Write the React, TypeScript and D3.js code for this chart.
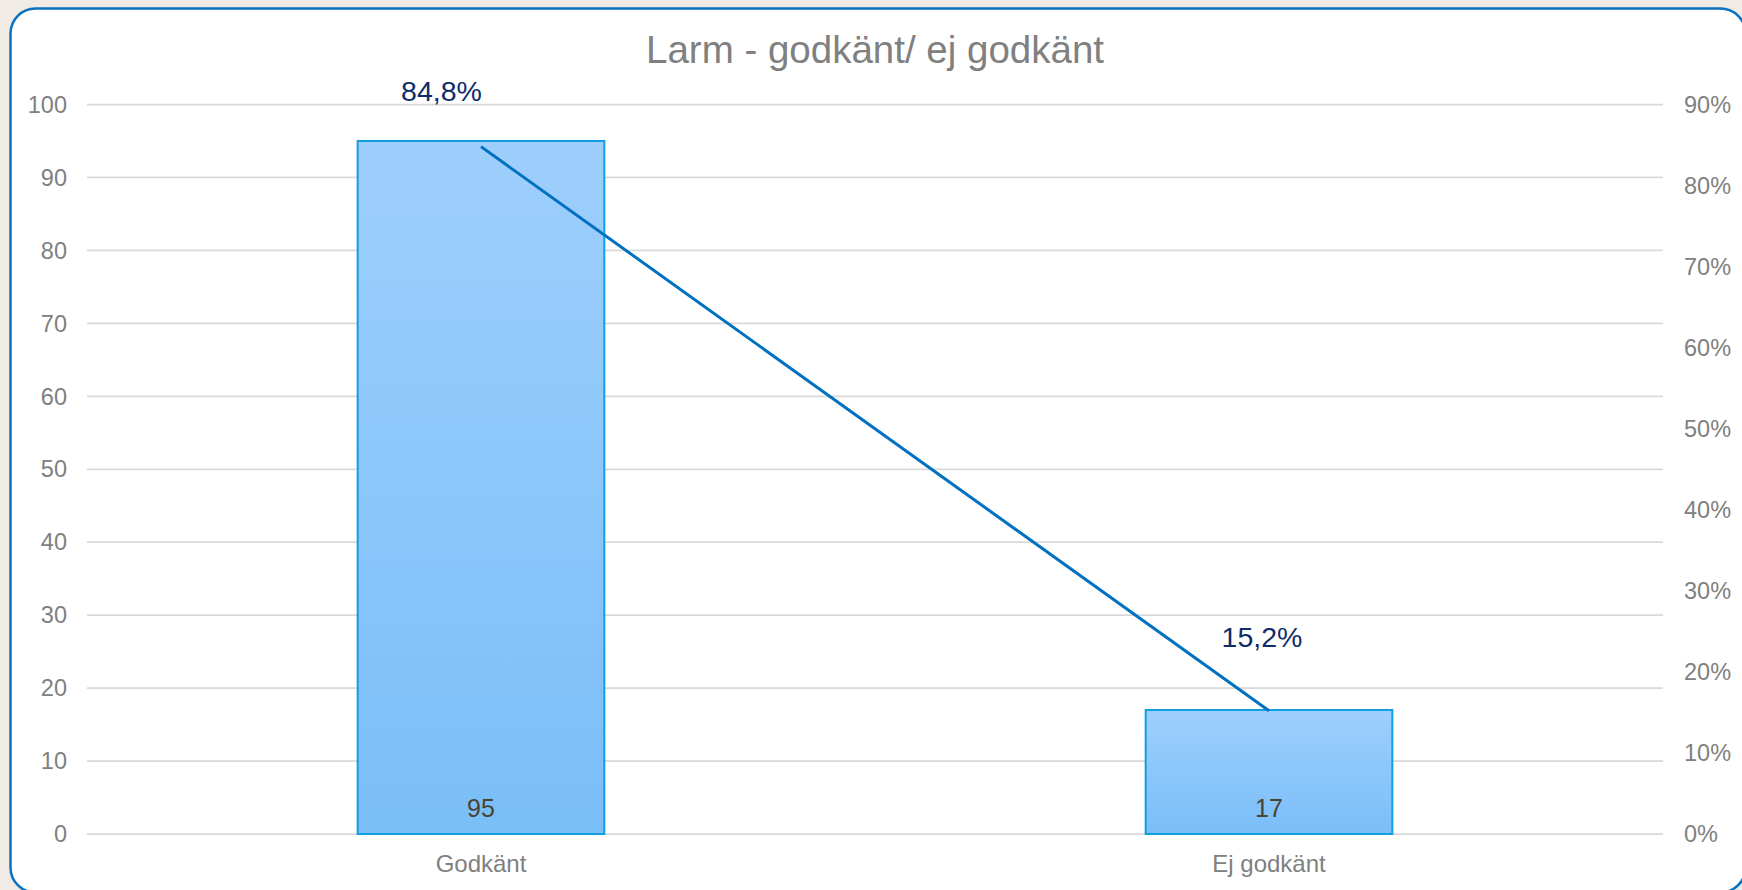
import React from "react";
import * as d3 from "d3";

const categories = ["Godkänt", "Ej godkänt"];
const counts = [95, 17];
const shares = [0.848, 0.152];
const leftTicks = [0, 10, 20, 30, 40, 50, 60, 70, 80, 90, 100];
const rightTicks = [0, 0.1, 0.2, 0.3, 0.4, 0.5, 0.6, 0.7, 0.8, 0.9];
const title = "Larm - godkänt/ ej godkänt";

// label offsets (layout only)
const shareLabelOffsets = [
  { dx: -39.5, dy: -46 },
  { dx: -7, dy: -64 },
];

const W = 1742;
const H = 890;
const plot = { left: 87, right: 1663, top: 104.5, bottom: 834 };
const FONT = "'Liberation Sans', Arial, Helvetica, sans-serif";

export default function App() {
  const p = 0.687;
  const x = d3
    .scaleBand<string>()
    .domain(categories)
    .range([plot.left, plot.right])
    .paddingInner(p)
    .paddingOuter(p / 2);
  const yL = d3.scaleLinear().domain([0, 100]).range([plot.bottom, plot.top]);
  const yR = d3.scaleLinear().domain([0, 0.9]).range([plot.bottom, plot.top]);
  const cx = (c: string) => (x(c) as number) + x.bandwidth() / 2;

  const line = d3
    .line<number>()
    .x((_, i) => cx(categories[i]))
    .y((d) => yR(d));

  const fmtPct = (v: number) =>
    (v * 100).toFixed(1).replace(".", ",") + "%";
  const fmtTick = (v: number) => Math.round(v * 100) + "%";

  return (
    <svg
      width={W}
      height={H}
      style={{ position: "absolute", left: 0, top: 0, display: "block" }}
      fontFamily={FONT}
    >
      <defs>
        <linearGradient id="barGrad" x1="0" y1="0" x2="0" y2="1">
          <stop offset="0" stopColor="#9ecffc" />
          <stop offset="1" stopColor="#7abef8" />
        </linearGradient>
      </defs>
      <rect x={0} y={0} width={W} height={H} fill="#f0ebe4" />
      <rect
        x={10.5}
        y={8.5}
        width={1735}
        height={884}
        rx={25}
        ry={25}
        fill="#ffffff"
        stroke="#0b72c2"
        strokeWidth={2.5}
      />
      <text
        x={(plot.left + plot.right) / 2}
        y={63}
        textAnchor="middle"
        fontSize={38.5}
        fill="#808080"
      >
        {title}
      </text>

      {leftTicks.map((t) => (
        <line
          key={"g" + t}
          x1={plot.left}
          x2={plot.right}
          y1={yL(t)}
          y2={yL(t)}
          stroke="#d9d9d9"
          strokeWidth={1.75}
        />
      ))}
      {leftTicks.map((t) => (
        <text
          key={"l" + t}
          x={67}
          y={yL(t)}
          dy="0.35em"
          textAnchor="end"
          fontSize={23.5}
          fill="#808080"
        >
          {t}
        </text>
      ))}
      {rightTicks.map((t) => (
        <text
          key={"r" + t}
          x={1684}
          y={yR(t)}
          dy="0.35em"
          textAnchor="start"
          fontSize={23.5}
          fill="#808080"
        >
          {fmtTick(t)}
        </text>
      ))}

      {categories.map((c, i) => (
        <rect
          key={"b" + c}
          x={x(c)}
          y={yL(counts[i])}
          width={x.bandwidth()}
          height={yL(0) - yL(counts[i])}
          fill="url(#barGrad)"
          stroke="#119ee3"
          strokeWidth={2}
        />
      ))}
      {categories.map((c, i) => (
        <text
          key={"v" + c}
          x={cx(c)}
          y={yL(0) - 17.5}
          textAnchor="middle"
          fontSize={25}
          fill="#4a4233"
        >
          {counts[i]}
        </text>
      ))}
      {categories.map((c) => (
        <text
          key={"c" + c}
          x={cx(c)}
          y={871.5}
          textAnchor="middle"
          fontSize={24}
          fill="#808080"
        >
          {c}
        </text>
      ))}

      <path
        d={line(shares) || ""}
        fill="none"
        stroke="#0070c0"
        strokeWidth={3}
      />
      {categories.map((c, i) => (
        <text
          key={"s" + c}
          x={cx(c) + shareLabelOffsets[i].dx}
          y={yR(shares[i]) + shareLabelOffsets[i].dy}
          textAnchor="middle"
          fontSize={28.5}
          fill="#0f2d6b"
        >
          {fmtPct(shares[i])}
        </text>
      ))}
    </svg>
  );
}
